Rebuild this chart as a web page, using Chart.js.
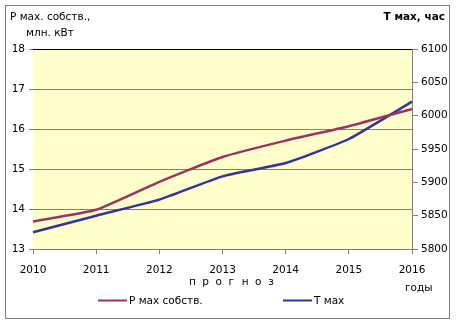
<!DOCTYPE html>
<html>
  <head>
    <script src="https://cdn.jsdelivr.net/npm/chart.js@4/dist/chart.umd.min.js"></script>
    <style>
      body { margin: 0; background: #fff; }
    </style>
  </head>

  <body>
    <canvas id="canvas" width="458" height="326"></canvas>
    <script>
      const years = ['2010', '2011', '2012', '2013', '2014', '2015', '2016'];
      const pMax = [13.69, 13.98, 14.68, 15.3, 15.71, 16.07, 16.5];
      const tMax = [5825, 5850, 5874, 5909, 5929, 5965, 6021];

      const FONT = 'DejaVu Sans';
      const tickFont = { family: FONT, size: 10.5 };

      // yellow plot area, frame and the free-standing captions
      const decor = {
        id: 'decor',
        beforeDatasetsDraw(chart) {
          const { ctx, chartArea: a } = chart;
          ctx.save();
          ctx.fillStyle = '#FFFFCC';
          ctx.fillRect(a.left, a.top, a.right - a.left, a.bottom - a.top);
          // horizontal grid drawn over the fill
          const y = chart.scales.y;
          ctx.strokeStyle = '#808080';
          ctx.lineWidth = 1;
          y.ticks.forEach((t) => {
            const py = Math.round(y.getPixelForValue(t.value)) + 0.5;
            ctx.beginPath();
            ctx.moveTo(a.left, py);
            ctx.lineTo(a.right, py);
            ctx.stroke();
          });
          ctx.strokeStyle = '#000';
          ctx.beginPath();
          ctx.moveTo(a.left, Math.round(a.top) + 0.5);
          ctx.lineTo(a.right, Math.round(a.top) + 0.5);
          ctx.stroke();
          ctx.restore();
        },
        afterDraw(chart) {
          const { ctx } = chart;
          ctx.save();
          ctx.strokeStyle = '#808080';
          ctx.lineWidth = 1;
          ctx.strokeRect(5.5, 5.5, 444, 313);

          ctx.fillStyle = '#000';
          ctx.textBaseline = 'middle';
          ctx.font = '10.5px ' + FONT;
          ctx.textAlign = 'left';
          ctx.fillText('P мах. собств.,', 10, 17);
          ctx.fillText('млн. кВт', 26, 33);
          ctx.font = 'bold 10.5px ' + FONT;
          ctx.textAlign = 'right';
          ctx.fillText('T мах, час', 445, 17);

          ctx.font = '10.5px ' + FONT;
          ctx.textAlign = 'left';
          // spaced-out caption under the forecast years
          Array.from('прогноз').forEach((ch, i) => {
            ctx.fillText(ch, 189 + i * 13.2, 282);
          });
          ctx.fillText('годы', 405, 288);

          // legend
          const items = [
            { label: 'P мах собств.', color: '#993366', x: 98 },
            { label: 'T мах', color: '#333399', x: 283 },
          ];
          items.forEach((it) => {
            ctx.strokeStyle = it.color;
            ctx.lineWidth = 2;
            ctx.beginPath();
            ctx.moveTo(it.x, 300.5);
            ctx.lineTo(it.x + 29, 300.5);
            ctx.stroke();
            ctx.fillStyle = '#000';
            ctx.fillText(it.label, it.x + 31, 301);
          });
          ctx.restore();
        },
      };

      new Chart(document.getElementById('canvas').getContext('2d'), {
        type: 'line',
        data: {
          labels: years,
          datasets: [
            {
              label: 'P мах собств.',
              data: pMax,
              yAxisID: 'y',
              borderColor: '#993366',
              borderWidth: 2.5,
              pointRadius: 0,
              tension: 0.15,
            },
            {
              label: 'T мах',
              data: tMax,
              yAxisID: 'y1',
              borderColor: '#333399',
              borderWidth: 2.5,
              pointRadius: 0,
              tension: 0.15,
            },
          ],
        },
        options: {
          responsive: false,
          animation: false,
          layout: { padding: { top: 49, left: 0, right: 0, bottom: 0 } },
          plugins: {
            legend: { display: false },
            tooltip: { enabled: false },
          },
          scales: {
            x: {
              offset: false,
              border: { color: '#808080' },
              grid: { drawOnChartArea: false, color: '#808080', tickLength: 5 },
              ticks: { color: '#000', font: tickFont, padding: 10, maxRotation: 0 },
              afterFit: (s) => { s.height = 77; },
            },
            y: {
              position: 'left',
              min: 13,
              max: 18,
              border: { color: '#808080' },
              grid: { drawOnChartArea: false, color: '#808080', tickLength: 4 },
              ticks: { stepSize: 1, color: '#000', font: tickFont, padding: 4 },
              afterFit: (s) => { s.width = 33; },
            },
            y1: {
              position: 'right',
              min: 5800,
              max: 6100,
              border: { color: '#808080' },
              grid: { drawOnChartArea: false, color: '#808080', tickLength: 6 },
              ticks: {
                stepSize: 50,
                color: '#000',
                font: tickFont,
                padding: 3,
                callback: (v) => String(v),
              },
              afterFit: (s) => { s.width = 46; },
            },
          },
        },
        plugins: [decor],
      });
    </script>
  </body>
</html>
